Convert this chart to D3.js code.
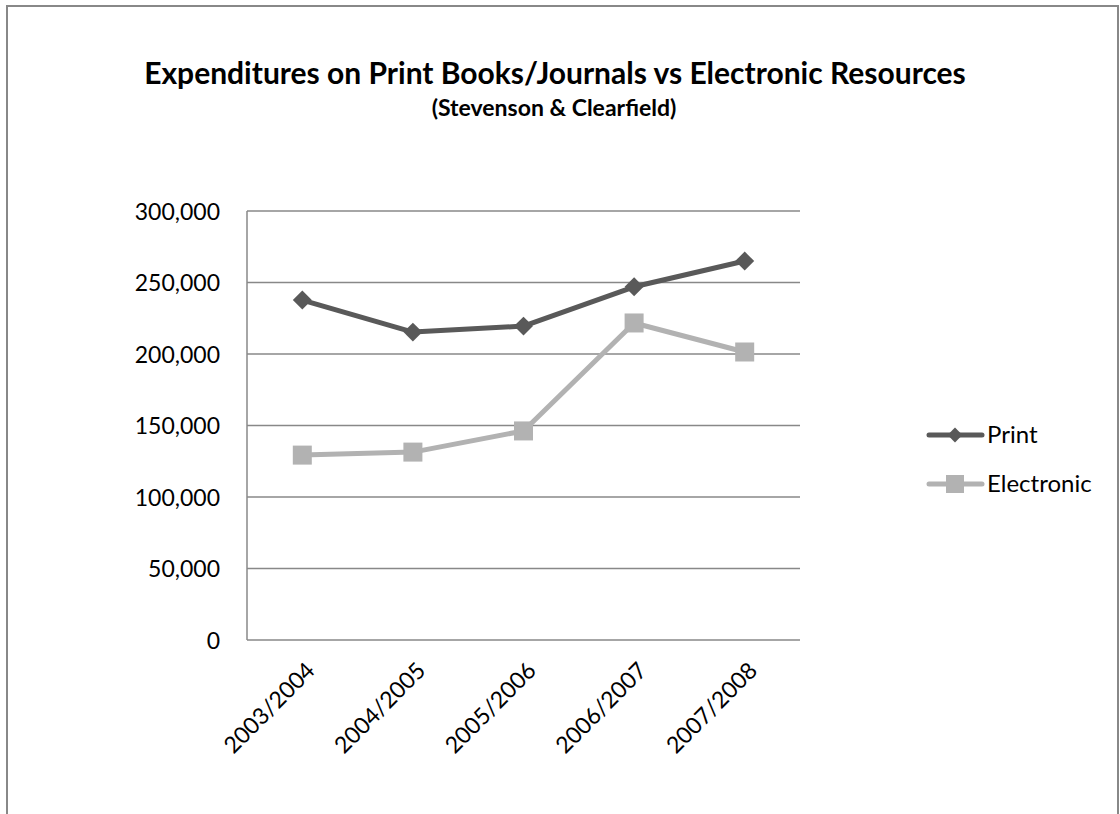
<!DOCTYPE html>
<html><head><meta charset="utf-8">
<script src="https://cdn.jsdelivr.net/npm/d3@7"></script>
<style>body{margin:0;background:#fff;} svg{display:block;}</style>
</head><body>
<svg id="c" width="1120" height="814"></svg>
<script>
const categories = ["2003/2004","2004/2005","2005/2006","2006/2007","2007/2008"];
const printValues = [237700, 215300, 219500, 247000, 265000];
const electronicValues = [129300, 131400, 146200, 221700, 201400];
const yTicks = [0, 50000, 100000, 150000, 200000, 250000, 300000];
const seriesNames = ["Print", "Electronic"];

const svg = d3.select("#c");
const font = "Lato, 'Open Sans', sans-serif";
svg.append("rect").attr("x",7).attr("y",6).attr("width",1111).attr("height",840)
  .attr("fill","#fff").attr("stroke","#888888").attr("stroke-width",2);

const L=247, R=800, T=211, B=640;
const x = d3.scaleBand().domain(categories).range([L,R]);
const y = d3.scaleLinear().domain([0,300000]).range([B,T]);

svg.append("text").attr("x",555).attr("y",84).attr("text-anchor","middle")
  .attr("font-family",font).attr("font-weight","bold").attr("font-size",30).attr("fill","#000")
  .text("Expenditures on Print Books/Journals vs Electronic Resources");
svg.append("text").attr("x",554).attr("y",116).attr("text-anchor","middle")
  .attr("font-family",font).attr("font-weight","bold").attr("font-size",23).attr("fill","#000")
  .text("(Stevenson & Clearfield)");

// gridlines
svg.append("g").selectAll("line").data(yTicks).join("line")
  .attr("x1",L).attr("x2",R).attr("y1",d=>y(d)).attr("y2",d=>y(d))
  .attr("stroke","#888888").attr("stroke-width",1.5);
svg.append("line").attr("x1",L).attr("x2",L).attr("y1",T).attr("y2",B)
  .attr("stroke","#888888").attr("stroke-width",1.5);

const yAxis = svg.append("g").attr("transform",`translate(${L},0)`)
  .call(d3.axisLeft(y).tickValues(yTicks).tickSize(0).tickPadding(27).tickFormat(d3.format(",")));
yAxis.select(".domain").remove();
yAxis.selectAll("text").attr("font-family",font).attr("font-size",23).attr("fill","#000").attr("dy","0.35em");

const xAxis = svg.append("g").attr("transform",`translate(0,${B})`)
  .call(d3.axisBottom(x).tickSize(0).tickFormat(d=>d));
xAxis.select(".domain").remove();
xAxis.selectAll("text").attr("font-family",font).attr("font-size",23).attr("fill","#000")
  .attr("text-anchor","end").attr("dy",0).attr("x",0).attr("y",0)
  .attr("transform","translate(14,32) rotate(-45)");

const line = d3.line().x((d,i)=>x(categories[i])+x.bandwidth()/2).y(d=>y(d));
const colors = ["#595959","#b2b2b2"];
const data = [printValues, electronicValues];

data.forEach((vals,si)=>{
  svg.append("path").datum(vals).attr("d",line).attr("fill","none")
    .attr("stroke",colors[si]).attr("stroke-width",5).attr("stroke-linejoin","round");
});
svg.append("g").selectAll("path").data(printValues).join("path")
  .attr("d",d3.symbol().type(d3.symbolSquare).size(180))
  .attr("transform",(d,i)=>`translate(${x(categories[i])+x.bandwidth()/2},${y(d)}) rotate(45)`)
  .attr("fill",colors[0]);
svg.append("g").selectAll("rect").data(electronicValues).join("rect")
  .attr("x",(d,i)=>x(categories[i])+x.bandwidth()/2-9.5).attr("y",d=>y(d)-9.5)
  .attr("width",19).attr("height",19).attr("fill",colors[1]);

// legend
const legY=[435,484];
seriesNames.forEach((n,i)=>{
  const g=svg.append("g");
  g.append("line").attr("x1",929).attr("x2",982).attr("y1",legY[i]).attr("y2",legY[i])
    .attr("stroke",colors[i]).attr("stroke-width",5).attr("stroke-linecap","round");
  if(i===0){
    g.append("path").attr("d",d3.symbol().type(d3.symbolSquare).size(110))
      .attr("transform",`translate(955,${legY[i]}) rotate(45)`).attr("fill",colors[0]);
  } else {
    g.append("rect").attr("x",946).attr("y",legY[i]-9).attr("width",18).attr("height",18).attr("fill",colors[1]);
  }
  g.append("text").attr("x",987).attr("y",legY[i]).attr("dy","0.35em").attr("font-family",font).attr("font-size",24)
    .attr("fill","#000").text(n);
});
</script>
</body></html>
